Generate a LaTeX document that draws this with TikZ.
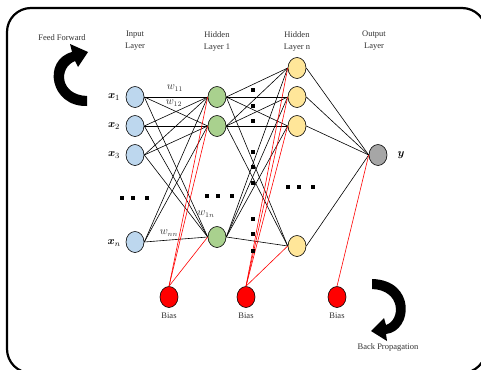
\documentclass[tikz,border=0pt]{standalone}
\usepackage{amsmath}
\usepackage{fontspec}
\setmainfont{Liberation Serif}
\usetikzlibrary{shapes.geometric,positioning}

\definecolor{inblue}{HTML}{BDD7EE}
\definecolor{hidgreen}{HTML}{A9D18E}
\definecolor{hidyellow}{HTML}{FFE699}
\definecolor{outgray}{HTML}{A6A6A6}
\definecolor{txtgray}{HTML}{303030}

\begin{document}
\begin{tikzpicture}[x=1pt,y=-1pt,
  neuron/.style={ellipse, draw, line width=0.6pt, minimum width=18pt, minimum height=21pt, inner sep=0pt},
  inneuron/.style={neuron, fill=inblue},
  hidone/.style={neuron, fill=hidgreen},
  hidlast/.style={neuron, fill=hidyellow},
  outneuron/.style={neuron, fill=outgray},
  biasneuron/.style={neuron, fill=red},
  lbl/.style={font=\fontsize{8.5}{12}\selectfont, text=txtgray, align=center, inner sep=0pt},
  varlbl/.style={font=\fontsize{11}{12}\selectfont, inner sep=0pt},
  wlbl/.style={font=\fontsize{10.5}{12}\selectfont, text=txtgray, inner sep=0pt},
  wire/.style={line width=0.6pt},
  biaswire/.style={line width=0.6pt, red},
  dotsq/.style={fill=black}
]
  \def\xin{135}
  \def\xha{217}
  \def\xhb{297}
  \def\xout{378}
  \def\ybias{297}
  \def\ds{1.8}

  % Fixed bounding box
  \useasboundingbox (0,0) rectangle (481,369);

  % Frame
  \draw[line width=2.2pt, rounded corners=24pt] (7,8) rectangle (486,373);

  % Layer titles
  \node[lbl] (tin)  at (\xin,41)  {Input\\Layer};
  \node[lbl] (tha)  at (\xha,41)  {Hidden\\Layer 1};
  \node[lbl] (thb)  at (\xhb,41)  {Hidden\\Layer n};
  \node[lbl] (tout) at (374,41)   {Output\\Layer};

  % Input layer
  \foreach \n/\y in {1/97,2/126,3/155} {
    \node[inneuron] (in\n) at (\xin,\y) {};
    \node[varlbl] (xl\n) at (114,\y) {$\boldsymbol{x}_{\n}$};
  }
  \node[inneuron] (inn) at (\xin,242) {};
  \node[varlbl] (xln) at (114,243) {$\boldsymbol{x}_{n}$};

  % Hidden layer 1
  \foreach \n/\y in {1/97,2/126,3/237}
    \node[hidone] (ha\n) at (\xha,\y) {};

  % Hidden layer n
  \foreach \n/\y in {1/68,2/97,3/126,4/246}
    \node[hidlast] (hb\n) at (\xhb,\y) {};

  % Output layer
  \node[outneuron] (out) at (\xout,155) {};
  \node[varlbl] (yl) at (401,155) {$\boldsymbol{y}$};

  % Bias nodes
  \node[biasneuron] (b1) at (169,\ybias) {};
  \node[biasneuron] (b2) at (246,\ybias) {};
  \node[biasneuron] (b3) at (337,\ybias) {};
  \foreach \b in {1,2,3}
    \node[lbl, below=5pt of b\b] (bl\b) {Bias};

  % Weights: input -> hidden 1
  \foreach \a in {in1,in2,in3,inn}
    \foreach \b in {ha1,ha2,ha3}
      \draw[wire] (\a.east) -- (\b.west);

  % Weights: hidden 1 -> hidden n
  \foreach \a in {ha1,ha2,ha3}
    \foreach \b in {hb1,hb2,hb3,hb4}
      \draw[wire] (\a.east) -- (\b.west);

  % Weights: hidden n -> output
  \foreach \a in {hb1,hb2,hb3,hb4}
    \draw[wire] (\a.east) -- (out.west);

  % Bias connections
  \foreach \b in {ha1,ha2,ha3}
    \draw[biaswire] (b1.north) -- (\b.west);
  \foreach \b in {hb1,hb2,hb3,hb4}
    \draw[biaswire] (b2.north) -- (\b.west);
  \draw[biaswire] (b3.north) -- (out.west);

  % Weight labels
  \node[wlbl] (w11) at (175,88)  {$w_{11}$};
  \node[wlbl] (w12) at (174,103) {$w_{12}$};
  \node[wlbl] (w1n) at (206,214) {$w_{1n}$};
  \node[wlbl] (wnn) at (169,233) {$w_{nn}$};

  % Ellipsis dots
  \foreach \x/\y in {122/198,133/198,147/198, 207/196,218/196,232/196,
                     288/187,299/187,313/187,
                     253/90,253/106,253/121, 253/152,253/167,253/183,
                     253/219,253/234,253/251}
    \fill[dotsq] (\x-\ds,\y-\ds) rectangle (\x+\ds,\y+\ds);

  % Feed forward arrow
  \node[lbl] (ff) at (62,38) {Feed Forward};
  \fill (87,106) .. controls (50,107) and (42,60) .. (72,52) -- (70,44) -- (88,52)
        -- (78,67) -- (75,61) .. controls (58,68) and (60,95) .. (87,96) -- cycle;

  % Back propagation arrow
  \node[lbl] (bp) at (388,347) {Back Propagation};
  \fill (372,279) .. controls (416,280) and (413,331) .. (386,334) -- (387,341)
        -- (371,331) -- (384,318) -- (386,325) .. controls (401,320) and (401,290)
        .. (372,289) -- cycle;
\end{tikzpicture}
\end{document}
